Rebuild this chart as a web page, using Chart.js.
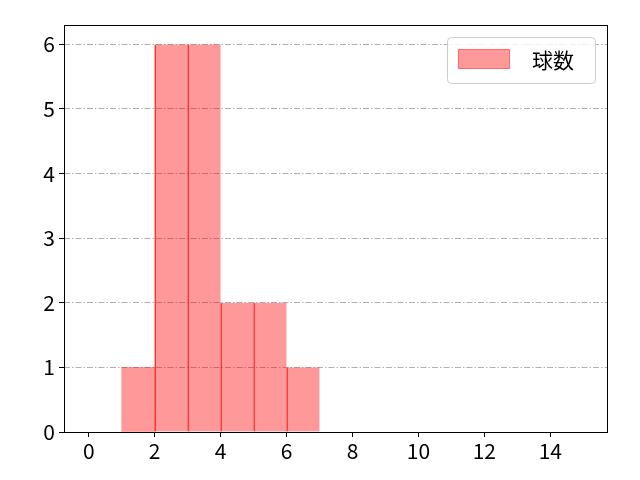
<!DOCTYPE html>
<html>
<head>
<meta charset="utf-8">
<script src="https://cdn.jsdelivr.net/npm/chart.js@4/dist/chart.umd.min.js"></script>
<style>
  html, body { margin: 0; padding: 0; background: #fff; }
  #wrap { width: 640px; height: 480px; }
</style>
</head>
<body>
<div id="wrap"><canvas id="chart" width="640" height="480"></canvas></div>
<script>
// histogram bins (left edge) and counts
const binStarts = [1, 2, 3, 4, 5, 6];
const counts = [1, 6, 6, 2, 2, 1];
const xTicks = [0, 2, 4, 6, 8, 10, 12, 14];
const yTicks = [0, 1, 2, 3, 4, 5, 6];
const seriesLabel = '球数';

const FONT = "'Noto Sans CJK JP', 'DejaVu Sans', sans-serif";

// frame + legend drawn inside the plot, like matplotlib
const framePlugin = {
  id: 'frame',
  afterDraw(chart) {
    const { ctx, chartArea: a } = chart;
    ctx.save();
    ctx.strokeStyle = '#000';
    ctx.lineWidth = 1;
    ctx.strokeRect(a.left + 0.5, a.top + 0.5, a.right - a.left - 1, a.bottom - a.top);

    // legend box
    const bx = a.right - 161, by = a.top + 12, bw = 148, bh = 46;
    ctx.fillStyle = 'rgba(255,255,255,0.8)';
    ctx.strokeStyle = '#cccccc';
    ctx.beginPath();
    ctx.roundRect(bx + 0.5, by + 0.5, bw, bh, 4);
    ctx.fill();
    ctx.stroke();
    ctx.fillStyle = 'rgba(255,0,0,0.4)';
    ctx.fillRect(bx + 11, by + 12, 52, 20);
    ctx.strokeStyle = 'rgba(255,0,0,0.3)';
    ctx.strokeRect(bx + 11.5, by + 12.5, 51, 19);
    ctx.fillStyle = '#000';
    ctx.font = '21px ' + FONT;
    ctx.textBaseline = 'middle';
    ctx.fillText(seriesLabel, bx + 85, by + 23);
    ctx.restore();
  }
};

new Chart(document.getElementById('chart'), {
  type: 'bar',
  data: {
    datasets: [{
      label: seriesLabel,
      data: binStarts.map((s, i) => ({ x: s + 0.5, y: counts[i] })),
      backgroundColor: 'rgba(255,0,0,0.4)',
      borderColor: 'rgba(255,0,0,0.75)',
      // only the shared edges between bins show as a red line
      borderWidth: c => ({ left: c.dataIndex > 0 ? 1 : 0, right: 0, top: 0, bottom: 0 }),
      barPercentage: 1,
      categoryPercentage: 1,
      borderSkipped: false
    }]
  },
  options: {
    responsive: false,
    animation: false,
    layout: { padding: { top: 25, right: 32, left: 0, bottom: 0 } },
    plugins: { legend: { display: false }, tooltip: { enabled: false } },
    scales: {
      x: {
        type: 'linear',
        offset: false,
        min: -0.75,
        max: 15.75,
        afterBuildTicks: ax => { ax.ticks = xTicks.map(v => ({ value: v })); },
        afterFit: ax => { ax.height = 48; },
        grid: { offset: false, drawOnChartArea: false, drawTicks: true, tickLength: 5, tickColor: '#000' },
        border: { display: false },
        ticks: { color: '#000', font: { family: FONT, size: 21 }, padding: 1, maxRotation: 0 }
      },
      y: {
        min: 0,
        max: 6.3,
        afterBuildTicks: ax => { ax.ticks = yTicks.map(v => ({ value: v })); },
        afterFit: ax => { ax.width = 64; },
        grid: {
          color: '#b0b0b0',
          lineWidth: 1,
          drawTicks: true,
          tickLength: 5,
          tickColor: '#000',
          tickBorderDash: []
        },
        border: { display: false, dash: [6, 2, 1.5, 2] },
        ticks: { color: '#000', font: { family: FONT, size: 21 }, padding: 4 }
      }
    }
  },
  plugins: [framePlugin]
});
</script>
</body>
</html>
